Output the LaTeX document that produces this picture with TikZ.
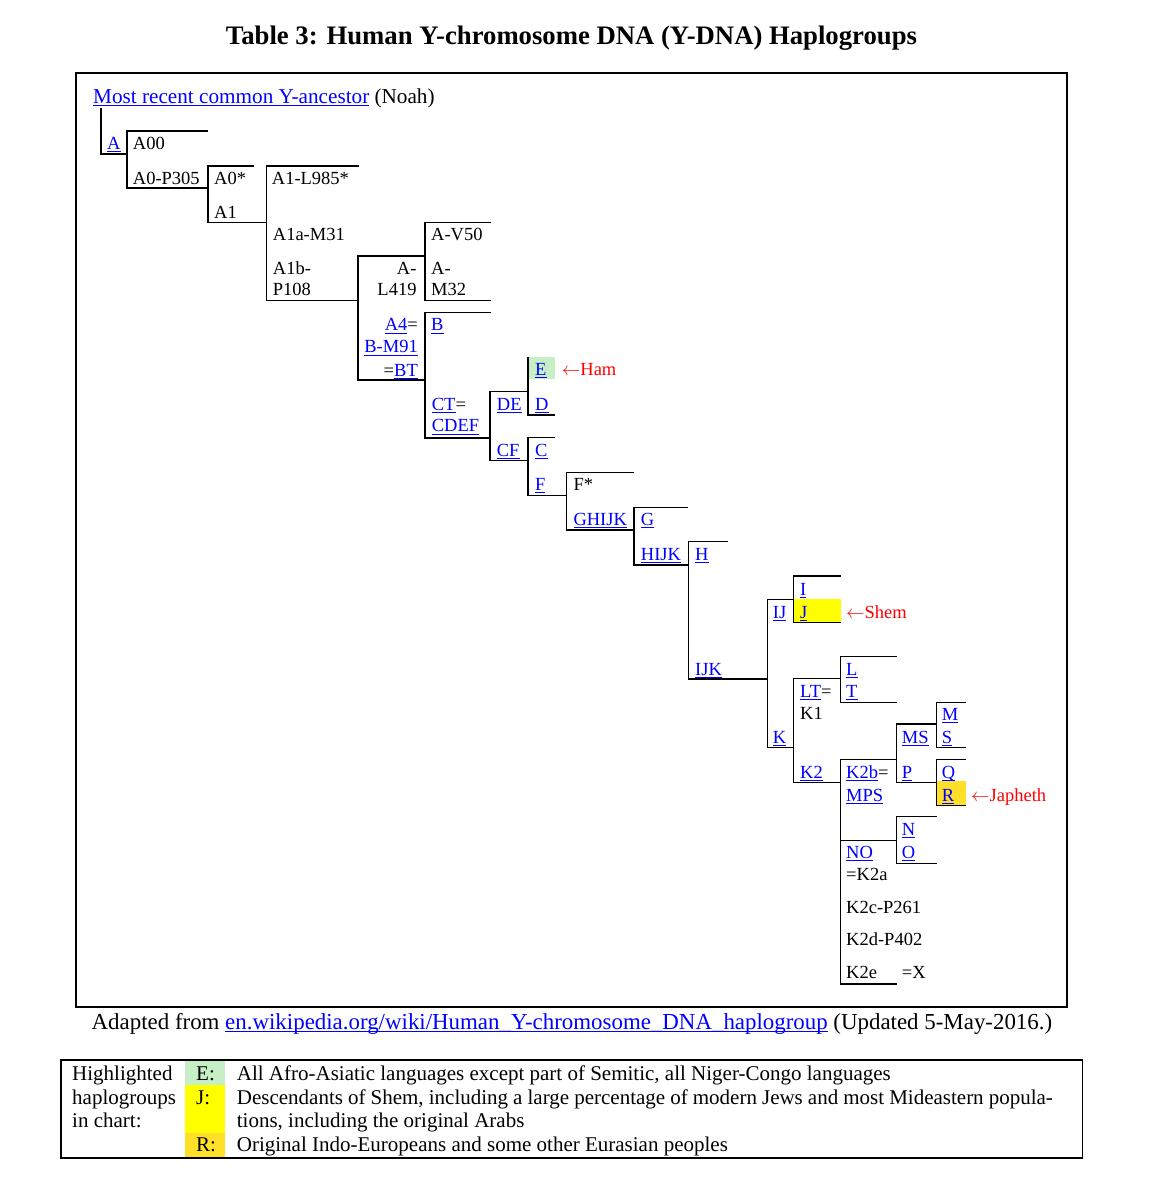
\RequirePackage{fix-cm}
\documentclass[tikz,border=0pt]{standalone}
\usepackage{fontspec}
\setmainfont{Liberation Serif}
\definecolor{lnkblue}{RGB}{0,0,255}
\definecolor{hamgreen}{RGB}{198,239,198}
\definecolor{shemyellow}{RGB}{255,255,0}
\definecolor{japhgold}{RGB}{255,224,40}
\definecolor{noahred}{RGB}{255,0,0}
\newcommand\ulink[1]{{\color{lnkblue}\setbox0=\hbox{#1}\rlap{\rule[-2.8pt]{\wd0}{1.0pt}}\box0}}
\newcommand\larr{$\leftarrow$}
\begin{document}
\begin{tikzpicture}[x=1pt,y=-1pt,
  ln/.style={line width=1.1pt},
  tx/.style={anchor=base west, inner sep=0pt, font=\fontsize{18.5}{22}\selectfont},
  txr/.style={tx, anchor=base east},
  hd/.style={anchor=base west, inner sep=0pt, font=\fontsize{21.2}{24}\selectfont},
  lg/.style={anchor=base west, inner sep=0pt, font=\fontsize{21}{24}\selectfont},
  redtx/.style={tx, text=noahred}]
\useasboundingbox (0,0) rectangle (1149,1199);
% title
\node[anchor=base, inner sep=0pt, font=\fontsize{26.7}{30}\selectfont\bfseries] (title) at (571.5,45) {Table 3: Human Y-chromosome DNA (Y-DNA) Haplogroups};
% frame
\draw[ln] (76,73) rectangle (1067,1007);
% highlight fills
\fill[hamgreen] (528,357.3) rectangle (555,379.3);
\fill[shemyellow] (793.3,599.3) rectangle (840.7,622.3);
\fill[japhgold] (936.7,781) rectangle (965.7,805.7);
% tree lines
\draw[ln] (101,108)--(101,154)--(127,154);
\draw[ln] (208,131)--(127,131)--(127,188)--(208,188);
\draw[ln] (254,166)--(208,166)--(208,222.7)--(266.7,222.7);
\draw[ln] (358.7,166)--(266.7,166)--(266.7,300.7)--(358,300.7);
\draw[ln] (425,256)--(358,256)--(358,380)--(425,380);
\draw[ln] (490.7,222.7)--(425,222.7)--(425,300.7)--(490.7,300.7);
\draw[ln] (490.7,312.7)--(425,312.7)--(425,438)--(490,438);
\draw[ln] (528,391.7)--(490,391.7)--(490,460.7)--(528,460.7);
\draw[ln] (528,357.3)--(528,415)--(555,415);
\draw[ln] (555,437.7)--(528,437.7)--(528,495.7)--(566.7,495.7);
\draw[ln] (634.3,472.7)--(566.7,472.7)--(566.7,530)--(634,530);
\draw[ln] (688.3,507.3)--(634,507.3)--(634,565)--(688.3,565);
\draw[ln] (728.3,541.7)--(688.3,541.7)--(688.3,679)--(767.3,679);
\draw[ln] (793.3,599.3)--(767.3,599.3)--(767.3,747.7)--(793.3,747.7);
\draw[ln] (840.7,576)--(793.3,576)--(793.3,622.3)--(840.7,622.3);
\draw[ln] (840.7,678.3)--(793.3,678.3)--(793.3,782.3)--(840.7,782.3);
\draw[ln] (896.7,656.7)--(840.7,656.7)--(840.7,702.3)--(896.7,702.3);
\draw[ln] (896.7,759.3)--(840.7,759.3)--(840.7,984)--(896.7,984);
\draw[ln] (936.7,724)--(896.7,724)--(896.7,782.3)--(936.7,782.3);
\draw[ln] (965.7,702.3)--(936.7,702.3)--(936.7,747.7)--(965.7,747.7);
\draw[ln] (965.7,759.3)--(936.7,759.3)--(936.7,805.7)--(965.7,805.7);
\draw[ln] (840.7,840.7)--(896.7,840.7);
\draw[ln] (936.7,816.7)--(896.7,816.7)--(896.7,863.3)--(936.7,863.3);
% header
\node[hd] (mrca) at (93,103) {\ulink{Most recent common Y-ancestor} (Noah)};
% tree texts
\node[tx] (nA) at (107,149) {\ulink{A}};
\node[tx] (nA00) at (132.7,149) {A00};
\node[tx] (nA0P) at (132.7,184) {A0-P305};
\node[tx] (nA0s) at (214,184) {A0*};
\node[tx] (nA1) at (214,218) {A1};
\node[tx] (nA1L) at (271.7,184) {A1-L985*};
\node[tx] (nA1a) at (272.7,240.7) {A1a-M31};
\node[tx] (nA1b1) at (272.7,274) {A1b-};
\node[tx] (nA1b2) at (272.7,295.7) {P108};
\node[tx] (nAV) at (431,240.7) {A-V50};
\node[txr] (nAL1) at (416.7,274) {A-};
\node[txr] (nAL2) at (416.7,295.7) {L419};
\node[tx] (nAM1) at (431,274) {A-};
\node[tx] (nAM2) at (431,295.7) {M32};
\node[txr] (nA4a) at (418,330.7) {\ulink{A4}=};
\node[txr] (nA4b) at (418,352.7) {\ulink{B-M91}};
\node[txr] (nA4c) at (418,376) {=\ulink{BT}};
\node[tx] (nB) at (431,330.7) {\ulink{B}};
\node[tx] (nE) at (535,375) {\ulink{E}};
\node[redtx] (ham) at (561.7,375) {\larr Ham};
\node[tx] (nCT1) at (431.7,410) {\ulink{CT}=};
\node[tx] (nCT2) at (431.7,431.7) {\ulink{CDEF}};
\node[tx] (nDE) at (496.7,410) {\ulink{DE}};
\node[tx] (nD) at (535,410) {\ulink{D}};
\node[tx] (nCF) at (496.7,456) {\ulink{CF}};
\node[tx] (nC) at (535,456) {\ulink{C}};
\node[tx] (nF) at (535,490) {\ulink{F}};
\node[tx] (nFs) at (573.3,490) {F*};
\node[tx] (nGHIJK) at (573.3,525) {\ulink{GHIJK}};
\node[tx] (nG) at (640.7,525) {\ulink{G}};
\node[tx] (nHIJK) at (640.7,560) {\ulink{HIJK}};
\node[tx] (nH) at (695,560) {\ulink{H}};
\node[tx] (nIJK) at (695,675) {\ulink{IJK}};
\node[tx] (nI) at (800,595) {\ulink{I}};
\node[tx] (nJ) at (800,618.3) {\ulink{J}};
\node[redtx] (shem) at (846,618.3) {\larr Shem};
\node[tx] (nIJ) at (772.7,618.3) {\ulink{IJ}};
\node[tx] (nL) at (846,675) {\ulink{L}};
\node[tx] (nLT) at (800,697.3) {\ulink{LT}=};
\node[tx] (nT) at (846,697.3) {\ulink{T}};
\node[tx] (nK1) at (800,719.3) {K1};
\node[tx] (nK) at (772.7,743.3) {\ulink{K}};
\node[tx] (nM) at (941.7,720) {\ulink{M}};
\node[tx] (nMS) at (901.7,743.3) {\ulink{MS}};
\node[tx] (nS) at (941.7,743.3) {\ulink{S}};
\node[tx] (nK2) at (800,778.3) {\ulink{K2}};
\node[tx] (nK2b) at (846,778.3) {\ulink{K2b}=};
\node[tx] (nP) at (901.7,778.3) {\ulink{P}};
\node[tx] (nQ) at (941.7,778.3) {\ulink{Q}};
\node[tx] (nMPS) at (846,801) {\ulink{MPS}};
\node[tx] (nR) at (941.7,801) {\ulink{R}};
\node[redtx] (japh) at (971,801) {\larr Japheth};
\node[tx] (nN) at (901.7,835) {\ulink{N}};
\node[tx] (nNO) at (846,858.3) {\ulink{NO}};
\node[tx] (nO) at (901.7,858.3) {\ulink{O}};
\node[tx] (nK2a) at (846,880.7) {=K2a};
\node[tx] (nK2c) at (846,913.3) {K2c-P261};
\node[tx] (nK2d) at (846,945.7) {K2d-P402};
\node[tx] (nK2e) at (846,978.3) {K2e};
\node[tx] (nX) at (901.7,978.3) {=X};
% footer
\node[anchor=base west, inner sep=0pt, font=\fontsize{22.9}{26}\selectfont] (src) at (91.5,1029) {Adapted from \ulink{en.wikipedia.org/wiki/Human\_Y-chromosome\_DNA\_haplogroup} (Updated 5-May-2016.)};
% legend
\fill[hamgreen] (185.3,1060) rectangle (225.3,1085);
\fill[shemyellow] (185.3,1085) rectangle (225.3,1132.7);
\fill[japhgold] (185.3,1132.7) rectangle (225.3,1157.5);
\draw[ln] (61,1060) rectangle (1082.5,1158);
\node[lg] (lh1) at (72,1080) {Highlighted};
\node[lg] (lh2) at (72,1104) {haplogroups};
\node[lg] (lh3) at (72,1127.3) {in chart:};
\node[lg] (lE) at (196,1080) {E:};
\node[lg] (lJ) at (196,1104) {J:};
\node[lg] (lR) at (196,1151.7) {R:};
\node[lg] (le) at (236.7,1080) {All Afro-Asiatic languages except part of Semitic, all Niger-Congo languages};
\node[lg] (lj1) at (236.7,1104) {\makebox[816pt][s]{Descendants of Shem, including a large percentage of modern Jews and most Mideastern popula-}};
\node[lg] (lj2) at (236.7,1127.3) {tions, including the original Arabs};
\node[lg] (lr) at (236.7,1151.7) {Original Indo-Europeans and some other Eurasian peoples};
\end{tikzpicture}
\end{document}
